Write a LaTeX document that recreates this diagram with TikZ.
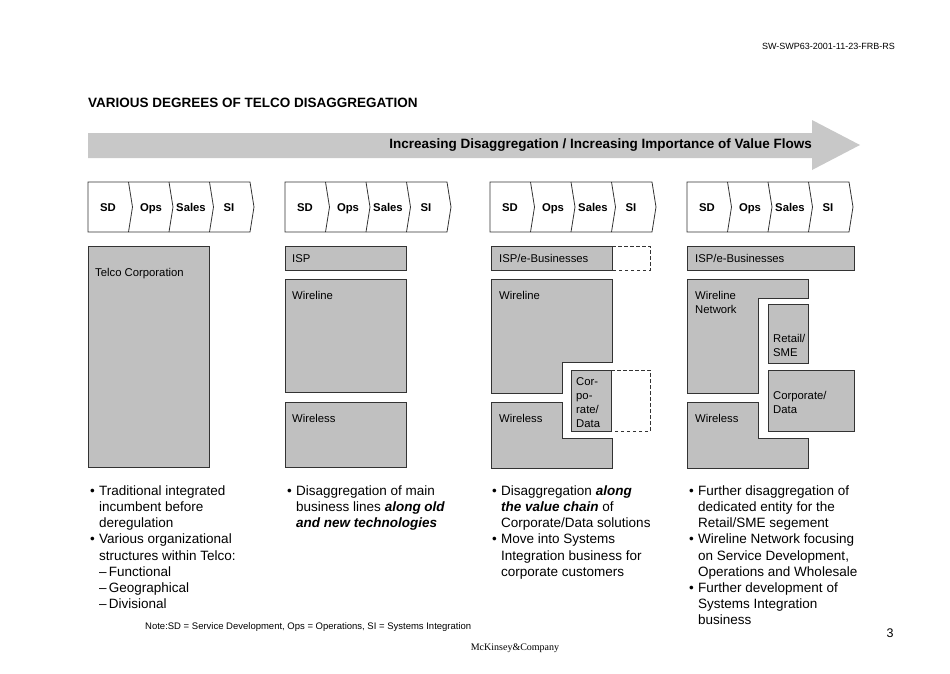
\documentclass[tikz,border=0pt]{standalone}
\usepackage{fontspec}
\setmainfont{Liberation Sans}
\newfontfamily\logofont{Liberation Serif}
\usepackage{tikz}
\usetikzlibrary{positioning,calc}
\definecolor{SlideGray}{HTML}{C0C0C0}
\definecolor{ArrowGray}{HTML}{C8C8C8}
\definecolor{LineDark}{HTML}{333333}
\newcommand{\fs}[2]{\fontsize{#1}{#2}\selectfont}
\newcommand{\bi}[1]{\textbf{\textit{#1}}}

\begin{document}
\begin{tikzpicture}[x=1pt,y=-1pt,
  blk/.style={draw=LineDark,fill=SlideGray,line width=0.8pt},
  ext/.style={draw=LineDark,dash pattern=on 3.5pt off 2.5pt,line width=0.8pt},
  chev/.style={draw=LineDark,line width=0.8pt},
  lbl/.style={anchor=north west,inner sep=0pt,align=left,font=\fs{11.3}{14}},
  chevtxt/.style={anchor=base,inner sep=0pt,font=\bfseries\fs{11.3}{13}},
  bullets/.style={anchor=north west,inner sep=0pt,font=\fs{13.5}{16.2}}]
\useasboundingbox (0,0) rectangle (950,673);

% header
\node[anchor=east,inner sep=0pt,font=\fs{9}{11}] (docid) at (895,46) {SW-SWP63-2001-11-23-FRB-RS};
\node[anchor=west,inner sep=0pt,font=\bfseries\fs{13.5}{16}] (title) at (88,103) {VARIOUS DEGREES OF TELCO DISAGGREGATION};

% big arrow
\fill[ArrowGray] (88,133) -- (812,133) -- (812,120) -- (860,145) -- (812,170) -- (812,158) -- (88,158) -- cycle;
\node[anchor=east,inner sep=0pt,font=\bfseries\fs{13.5}{16}] (flows) at (812,145) {Increasing Disaggregation / Increasing Importance of Value Flows};

% value chain chevrons
\foreach \gx/\g in {88/1,285/2,490/3,687/4}{
  \draw[chev] (\gx,182) -- (\gx+162,182) -- (\gx+166,207) -- (\gx+162,232) -- (\gx,232) -- cycle;
  \foreach \k in {1,2,3} \draw[chev] (\gx+40.5*\k,182) -- ++(4,25) -- ++(-4,25);
  \node[chevtxt] (sd\g) at (\gx+20,211) {SD};
  \node[chevtxt] (ops\g) at (\gx+63,211) {Ops};
  \node[chevtxt] (sales\g) at (\gx+103,211) {Sales};
  \node[chevtxt] (si\g) at (\gx+141,211) {SI};
}

% stage 1
\draw[blk] (88,246) rectangle (209,467);
\node[lbl] (telco) at (95,268) {Telco Corporation};

% stage 2
\draw[blk] (285,246) rectangle (406,270);
\node[lbl] (isp2) at (292,254) {ISP};
\draw[blk] (285,279) rectangle (406,392);
\node[lbl] (wireline2) at (292,291) {Wireline};
\draw[blk] (285,402) rectangle (406,467);
\node[lbl] (wireless2) at (292,414) {Wireless};

% stage 3
\draw[blk] (491,246) rectangle (612,270);
\draw[ext] (612,246) -- (650,246) -- (650,270) -- (612,270);
\node[lbl] (isp3) at (499,254) {ISP/e-Businesses};
\draw[blk] (491,279) -- (612,279) -- (612,362) -- (562,362) -- (562,393) -- (491,393) -- cycle;
\node[lbl] (wireline3) at (499,291) {Wireline};
\draw[blk] (571,370) rectangle (611,431);
\draw[ext] (611,370) -- (650,370) -- (650,431) -- (611,431);
\node[lbl] (corp3) at (576,377) {Cor-\\po-\\rate/\\Data};
\draw[blk] (491,402) -- (562,402) -- (562,438) -- (612,438) -- (612,468) -- (491,468) -- cycle;
\node[lbl] (wireless3) at (499,414) {Wireless};

% stage 4
\draw[blk] (687,246) rectangle (854,270);
\node[lbl] (isp4) at (695,254) {ISP/e-Businesses};
\draw[blk] (687,279) -- (808,279) -- (808,298) -- (758,298) -- (758,393) -- (687,393) -- cycle;
\node[lbl] (wireline4) at (695,291) {Wireline\\Network};
\draw[blk] (768,304) rectangle (808,363);
\node[lbl] (retail4) at (773,334) {Retail/\\SME};
\draw[blk] (768,370) rectangle (854,431);
\node[lbl] (corp4) at (773,391) {Corporate/\\Data};
\draw[blk] (687,402) -- (758,402) -- (758,438) -- (808,438) -- (808,468) -- (687,468) -- cycle;
\node[lbl] (wireless4) at (695,414) {Wireless};

% comments
\node[bullets] (txt1) at (90,483.7) {\begin{tabular}{@{}p{9pt}@{}l@{}}
\textbullet & Traditional integrated\\
 & incumbent before\\
 & deregulation\\
\textbullet & Various organizational\\
 & structures within Telco:\\
 & --\,Functional\\
 & --\,Geographical\\
 & --\,Divisional
\end{tabular}};
\node[bullets] (txt2) at (287,483.7) {\begin{tabular}{@{}p{9pt}@{}l@{}}
\textbullet & Disaggregation of main\\
 & business lines \bi{along old}\\
 & \bi{and new technologies}
\end{tabular}};
\node[bullets] (txt3) at (492,483.7) {\begin{tabular}{@{}p{9pt}@{}l@{}}
\textbullet & Disaggregation \bi{along}\\
 & \bi{the value chain} of\\
 & Corporate/Data solutions\\
\textbullet & Move into Systems\\
 & Integration business for\\
 & corporate customers
\end{tabular}};
\node[bullets] (txt4) at (689,483.7) {\begin{tabular}{@{}p{9pt}@{}l@{}}
\textbullet & Further disaggregation of\\
 & dedicated entity for the\\
 & Retail/SME segement\\
\textbullet & Wireline Network focusing\\
 & on Service Development,\\
 & Operations and Wholesale\\
\textbullet & Further development of\\
 & Systems Integration\\
 & business
\end{tabular}};

% footer
\node[anchor=west,inner sep=0pt,font=\fs{9.5}{11}] (note) at (145,627) {Note:SD = Service Development, Ops = Operations, SI = Systems Integration};
\node[inner sep=0pt,font=\logofont\fs{10}{11}] (logo) at (515,648) {McKinsey\&Company};
\node[inner sep=0pt,font=\fs{12.5}{14}] (page) at (890,633) {3};
\end{tikzpicture}
\end{document}
